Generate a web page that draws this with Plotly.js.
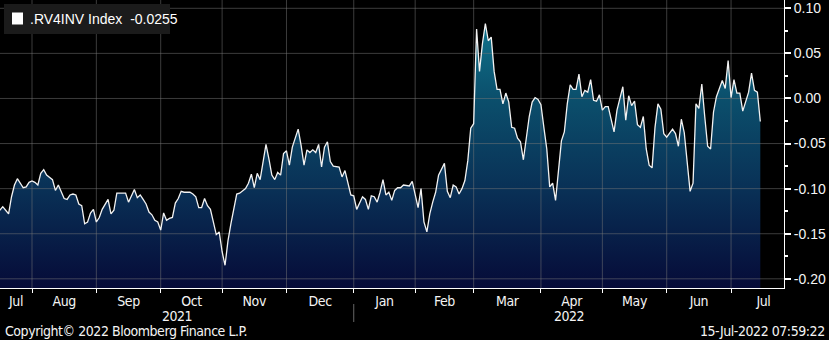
<!DOCTYPE html>
<html>
<head>
<meta charset="utf-8">
<script src="https://cdn.plot.ly/plotly-3.0.1.min.js"></script>
<style>html,body{margin:0;padding:0;background:#000;}#chart{width:829px;height:340px;}
.xtick text{letter-spacing:-0.4px;}
</style>
</head>
<body>
<div id="chart"></div>
<script>
// Business-day number counted from 2021-07-15 (Thu = 0)
const startDate = '2021-07-15';
const bday = [1,2,3,4,5,6,7,8,9,10,11,12,13,14,15,16,17,19,20,21,22,23,24,25,26,27,28,29,30,31,32,33,34,35,36,38,39,40,41,43,44,45,47,48,49,50,51,52,53,54,55,56,57,58,59,60,61,62,63,64,66,67,68,69,70,71,72,73,74,75,76,77,78,79,80,81,82,83,85,86,87,88,89,90,91,92,93,94,95,96,97,98,99,100,101,102,103,104,105,106,107,108,109,110,111,112,113,114,115,117,118,119,120,121,122,123,125,126,127,128,129,130,131,132,133,134,135,136,137,138,139,141,142,143,144,145,146,147,148,149,150,151,153,154,155,156,157,158,159,160,161,162,163,164,165,166,167,168,169,170,171,172,173,174,175,176,177,178,179,180,181,182,183,184,185,186,187,188,189,190,191,192,193,194,195,196,197,198,199,200,201,202,203,204,205,206,207,208,209,211,212,214,215,216,217,218,219,220,221,222,223,224,225,226,227,228,229,231,232,233,234,235,236,237,238,239,240,241,242,243,244,245,246,247,248,249,250,251,252,253,254,255,256,257,258,259,260,261];
const rv4inv = [-0.124,-0.120,-0.124,-0.128,-0.109,-0.096,-0.089,-0.094,-0.099,-0.098,-0.093,-0.0915,-0.093,-0.096,-0.083,-0.079,-0.085,-0.090,-0.102,-0.096,-0.104,-0.111,-0.112,-0.107,-0.106,-0.107,-0.117,-0.119,-0.139,-0.137,-0.127,-0.123,-0.137,-0.132,-0.123,-0.112,-0.128,-0.124,-0.105,-0.105,-0.105,-0.115,-0.101,-0.110,-0.107,-0.112,-0.117,-0.126,-0.129,-0.135,-0.137,-0.146,-0.127,-0.135,-0.133,-0.132,-0.116,-0.111,-0.103,-0.104,-0.104,-0.106,-0.109,-0.121,-0.121,-0.111,-0.119,-0.123,-0.137,-0.151,-0.148,-0.170,-0.185,-0.158,-0.139,-0.122,-0.106,-0.105,-0.100,-0.094,-0.084,-0.099,-0.083,-0.090,-0.072,-0.051,-0.067,-0.085,-0.090,-0.082,-0.085,-0.061,-0.058,-0.074,-0.054,-0.044,-0.034,-0.052,-0.074,-0.057,-0.060,-0.057,-0.060,-0.051,-0.076,-0.054,-0.048,-0.070,-0.075,-0.076,-0.087,-0.080,-0.093,-0.107,-0.108,-0.123,-0.109,-0.112,-0.123,-0.108,-0.109,-0.115,-0.104,-0.090,-0.107,-0.104,-0.113,-0.102,-0.099,-0.099,-0.096,-0.097,-0.092,-0.107,-0.121,-0.100,-0.137,-0.148,-0.128,-0.115,-0.104,-0.085,-0.072,-0.103,-0.110,-0.096,-0.098,-0.106,-0.100,-0.091,-0.069,-0.033,-0.028,0.077,0.030,0.061,0.083,0.064,0.068,0.030,0.010,0.010,-0.006,0.006,-0.004,-0.032,-0.033,-0.044,-0.048,-0.068,-0.046,-0.020,-0.004,0.001,-0.001,-0.007,-0.032,-0.056,-0.098,-0.094,-0.113,-0.076,-0.047,-0.037,-0.006,0.015,0.010,0.010,0.027,0.002,0.009,0.007,0.021,-0.002,-0.003,0.004,-0.013,-0.009,-0.009,-0.037,-0.013,0.013,-0.024,0.003,-0.008,-0.003,-0.029,-0.032,-0.020,-0.056,-0.074,-0.077,-0.032,-0.006,-0.012,-0.039,-0.043,-0.034,-0.039,-0.053,-0.023,-0.038,-0.072,-0.103,-0.094,-0.006,-0.011,0.016,-0.020,-0.053,-0.056,-0.015,0.002,0.011,0.020,0.011,0.042,0.001,0.021,0.006,0.006,-0.014,-0.002,0.007,0.028,0.009,0.007,-0.0255];
const monthLabels = ['Jul','Aug','Sep','Oct','Nov','Dec','Jan','Feb','Mar','Apr','May','Jun','Jul'];
const monthStarts = ['2021-08-01','2021-09-01','2021-10-01','2021-11-01','2021-12-01','2022-01-01','2022-02-01','2022-03-01','2022-04-01','2022-05-01','2022-06-01','2022-07-01'];
const yearLabels = ['2021','2022'];
const yTicks = [0.10,0.05,0.00,-0.05,-0.10,-0.15,-0.20];
const yTickText = ['0.10','0.05','0.00','-0.05','-0.10','-0.15','-0.20'];
const legendText = '.RV4INV Index  -0.0255';
const copyrightText = 'Copyright\u00A9 2022 Bloomberg Finance L.P.';
const stampText = '15-Jul-2022 07:59:22';

function toUTC(s){const p=s.split('-').map(Number);return Date.UTC(p[0],p[1]-1,p[2]);}
// index of first weekday on/after date, counted in weekdays from startDate
function firstBday(s){
  let t=toUTC(s);
  while([0,6].includes(new Date(t).getUTCDay())) t+=86400000;
  let n=0, u=toUTC(startDate);
  while(u<t){const d=new Date(u).getUTCDay(); if(d!==0&&d!==6) n++; u+=86400000;}
  return n;
}
const xMin = 1.06, xMax = 269.1;
const yMin = -0.2102, yMax = 0.1092;
const bounds = monthStarts.map(firstBday);
const edges = [xMin].concat(bounds).concat([xMax+4]);
const mids = monthLabels.map((m,i)=>(edges[i]+edges[i+1])/2);
const janB = bounds[5];
const yearMids = [(xMin+janB)/2,(janB+xMax)/2];

const W=829,H=340,ml=0,mr=45,mt=0,mb=52;
const pw=W-ml-mr, ph=H-mt-mb;
const px2paperX = p => (p-ml)/pw;
const px2paperY = p => 1-(p-mt)/ph;

const condensed = '"Liberation Sans Narrow","DejaVu Sans Condensed","Roboto Condensed","Arial Narrow","Liberation Sans",sans-serif';
const txt = '#f4f4f4';

// grid lines at the axis tick positions, drawn over the fill but under the line
function gridLines(){
  const gx=[], gy=[];
  yTicks.forEach(function(v){ gx.push(xMin, xMax, null); gy.push(v, v, null); });
  bounds.forEach(function(b){ gx.push(b, b, null); gy.push(yMin, yMax, null); });
  return {x:gx, y:gy};
}
const g = gridLines();

const base = {x:[bday[0],bday[bday.length-1]], y:[yMin,yMin], mode:'lines', line:{width:0,color:'rgba(0,0,0,0)'}, hoverinfo:'skip', showlegend:false};
const area = {x:bday, y:rv4inv, mode:'lines', line:{width:0,color:'rgba(0,0,0,0)'}, fill:'tonexty',
  fillgradient:{type:'vertical', start:yMin, stop:0.09, colorscale:[[0,'#060b38'],[0.35,'#092f55'],[0.7,'#0b4f6c'],[1,'#10768e']]},
  showlegend:false, hoverinfo:'skip'};
const grid = {x:g.x, y:g.y, mode:'lines', connectgaps:false, line:{color:'rgba(120,120,120,0.5)', width:1}, hoverinfo:'skip', showlegend:false};
const line = {x:bday, y:rv4inv, mode:'lines', line:{color:'#f2f2f2',width:1.3}, hoverinfo:'skip', showlegend:false};

const layout = {
  width:W, height:H, margin:{l:ml,r:mr,t:mt,b:mb,pad:0},
  paper_bgcolor:'#000', plot_bgcolor:'#000', showlegend:false,
  xaxis:{range:[xMin,xMax], tickmode:'array', tickvals:mids, ticktext:monthLabels, ticks:'', showgrid:false, zeroline:false,
    showline:true, linecolor:'#ffffff', linewidth:1, tickfont:{family:condensed,size:14,color:txt},
    minor:{tickmode:'array', tickvals:bounds, ticks:'outside', ticklen:4, tickcolor:'#ffffff', tickwidth:1, showgrid:false},
    fixedrange:true},
  yaxis:{side:'right', range:[yMin,yMax], tickmode:'array', tickvals:yTicks, ticktext:yTickText, ticks:'outside', ticklen:6, tickwidth:2, tickcolor:'#ffffff',
    showgrid:false, zeroline:false, showline:true, linecolor:'#ffffff', linewidth:1,
    tickfont:{family:'"Liberation Sans",Arial,sans-serif',size:14,color:txt},
    minor:{tickmode:'linear', tick0:0, dtick:0.025, ticks:'outside', ticklen:3, tickcolor:'#ffffff', showgrid:false},
    fixedrange:true},
  shapes: [
    {type:'rect', xref:'paper', yref:'paper', x0:px2paperX(4), x1:px2paperX(170), y0:px2paperY(34), y1:px2paperY(4), fillcolor:'#1b1b1b', line:{width:0}, layer:'above'},
    {type:'rect', xref:'paper', yref:'paper', x0:px2paperX(12), x1:px2paperX(23), y0:px2paperY(24.5), y1:px2paperY(12.5), fillcolor:'#ffffff', line:{width:0}, layer:'above'},
    {type:'line', xref:'x', yref:'paper', x0:janB, x1:janB, y0:px2paperY(304), y1:px2paperY(322), line:{color:'#666666',width:1}}
  ],
  annotations:[
    {xref:'paper', yref:'paper', x:px2paperX(28), y:px2paperY(19), xanchor:'left', yanchor:'middle', text:legendText, showarrow:false,
     font:{family:'"Liberation Sans",Arial,sans-serif', size:14, color:'#ffffff'}},
    {xref:'x', yref:'paper', x:yearMids[0], y:px2paperY(316), xanchor:'center', yanchor:'middle', text:yearLabels[0], showarrow:false, font:{family:condensed,size:14,color:txt}},
    {xref:'x', yref:'paper', x:yearMids[1], y:px2paperY(316), xanchor:'center', yanchor:'middle', text:yearLabels[1], showarrow:false, font:{family:condensed,size:14,color:txt}},
    {xref:'paper', yref:'paper', x:px2paperX(3), y:px2paperY(331), xanchor:'left', yanchor:'middle', text:copyrightText, showarrow:false, font:{family:condensed,size:14,color:txt}},
    {xref:'paper', yref:'paper', x:px2paperX(827), y:px2paperY(331), xanchor:'right', yanchor:'middle', text:stampText, showarrow:false, font:{family:condensed,size:14,color:txt}}
  ]
};
Plotly.newPlot('chart',[base,area,grid,line],layout,{displayModeBar:false,staticPlot:true}).then(function(){
  // tighten footer text like the condensed Bloomberg face, keeping the anchored edge in place
  const anchors = [null,'c','c','l','r'];
  document.querySelectorAll('.annotation').forEach(function(gr,i){
    if(i===0) return;
    gr.querySelectorAll('text').forEach(function(t){
      const b0 = t.getBBox();
      t.style.letterSpacing='-0.45px';
      const b1 = t.getBBox();
      let dx = 0;
      if(anchors[i]==='l') dx = b0.x - b1.x;
      else if(anchors[i]==='r') dx = (b0.x+b0.width) - (b1.x+b1.width);
      if(dx) t.setAttribute('transform','translate('+dx+',0)');
    });
  });
});
</script>
</body>
</html>
